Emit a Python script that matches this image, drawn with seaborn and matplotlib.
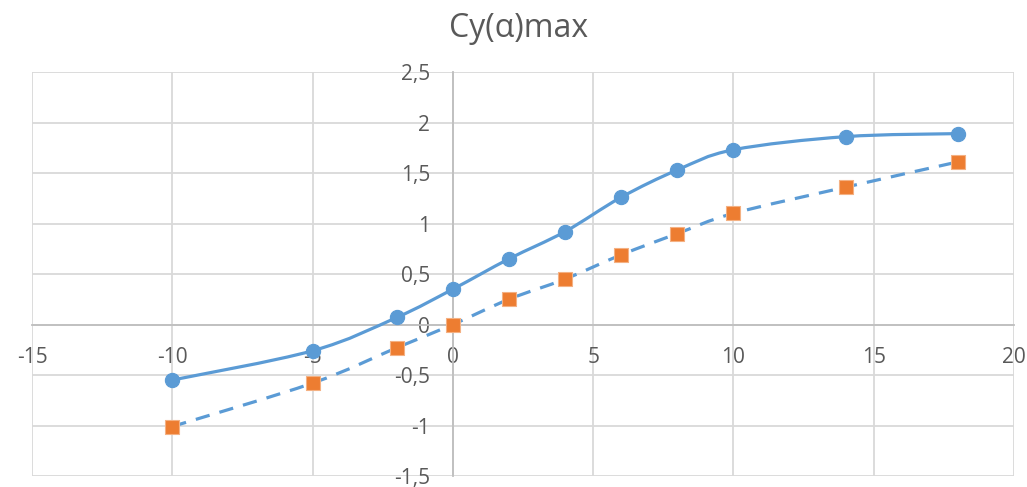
import numpy as np
import pandas as pd
import matplotlib
matplotlib.use("Agg")
import matplotlib.pyplot as plt
from matplotlib.path import Path
from matplotlib.patches import PathPatch
import seaborn as sns

alpha = [-10, -5, -2, 0, 2, 4, 6, 8, 10, 14, 18]
cy_max_1 = [-0.55, -0.26, 0.07, 0.35, 0.65, 0.92, 1.26, 1.53, 1.73, 1.86, 1.89]
cy_max_2 = [-1.01, -0.58, -0.23, 0.0, 0.25, 0.45, 0.69, 0.90, 1.10, 1.36, 1.61]
x_ticks = [-15, -10, -5, 0, 5, 10, 15, 20]
x_tick_labels = ["-15", "-10", "-5", "0", "5", "10", "15", "20"]
y_ticks = [-1.5, -1, -0.5, 0, 0.5, 1, 1.5, 2, 2.5]
y_tick_labels = ["-1,5", "-1", "-0,5", "0", "0,5", "1", "1,5", "2", "2,5"]
title = "Cy(α)max"

sns.set_theme(style="white")
plt.rcParams['font.family'] = ['Open Sans', 'DejaVu Sans']

BLUE = "#5b9bd5"
ORANGE = "#ed7d31"
GRID = "#d9d9d9"
TXT = "#595959"

fig = plt.figure(figsize=(10.27, 4.87), dpi=100)
ax = fig.add_axes([32/1027, 1-476/487, (1014-32)/1027, (476-72)/487])


def smooth_path(xs, ys):
    pts = np.column_stack([xs, ys]).astype(float)
    n = len(pts)
    verts = [pts[0]]
    codes = [Path.MOVETO]
    for i in range(n - 1):
        p0 = pts[i - 1] if i > 0 else pts[i]
        p1 = pts[i]
        p2 = pts[i + 1]
        p3 = pts[i + 2] if i + 2 < n else pts[i + 1]
        c1 = p1 + (p2 - p0) / 6.0
        c2 = p2 - (p3 - p1) / 6.0
        verts += [c1, c2, p2]
        codes += [Path.CURVE4] * 3
    return Path(verts, codes)


ax.add_patch(PathPatch(smooth_path(alpha, cy_max_1), fill=False, edgecolor=BLUE,
                       lw=2.3, capstyle='round', zorder=3))
ax.add_patch(PathPatch(smooth_path(alpha, cy_max_2), fill=False, edgecolor=BLUE,
                       lw=2.3, linestyle=(0, (4.5, 3.2)), zorder=3))

df1 = pd.DataFrame({"x": alpha, "y": cy_max_1})
df2 = pd.DataFrame({"x": alpha, "y": cy_max_2})
sns.scatterplot(data=df1, x="x", y="y", ax=ax, marker="o", s=105, color=BLUE,
                edgecolor=BLUE, linewidth=0.8, zorder=4, legend=False)
sns.scatterplot(data=df2, x="x", y="y", ax=ax, marker="s", s=88, color=ORANGE,
                edgecolor="#f4b183", linewidth=0.8, zorder=4, legend=False)

ax.set_xlim(-15, 20)
ax.set_ylim(-1.5, 2.5)
ax.set_xticks(x_ticks)
ax.set_xticklabels(x_tick_labels)
ax.set_yticks(y_ticks)
ax.set_yticklabels(y_tick_labels)
ax.set_xlabel("")
ax.set_ylabel("")

ax.grid(True, color=GRID, lw=1.3)
for gl in ax.get_xgridlines() + ax.get_ygridlines():
    gl.set_clip_on(False)
ax.set_axisbelow(True)

for s in ["top", "right"]:
    ax.spines[s].set_visible(False)
ax.spines["left"].set_position(("data", 0))
ax.spines["bottom"].set_position(("data", 0))
ax.spines["left"].set_color("#bfbfbf")
ax.spines["bottom"].set_color("#bfbfbf")
ax.spines["left"].set_linewidth(1.3)
ax.spines["bottom"].set_linewidth(1.3)

ax.tick_params(axis="x", length=0, pad=16.5, labelsize=15, labelcolor=TXT)
ax.tick_params(axis="y", length=0, pad=16.5, labelsize=15, labelcolor=TXT)
for lab in ax.get_yticklabels():
    lab.set_horizontalalignment("right")

fig.text(519/1027, 1-37/487, title, ha="center", va="baseline", fontsize=23, color=TXT)

fig.savefig("out.png", dpi=100)
